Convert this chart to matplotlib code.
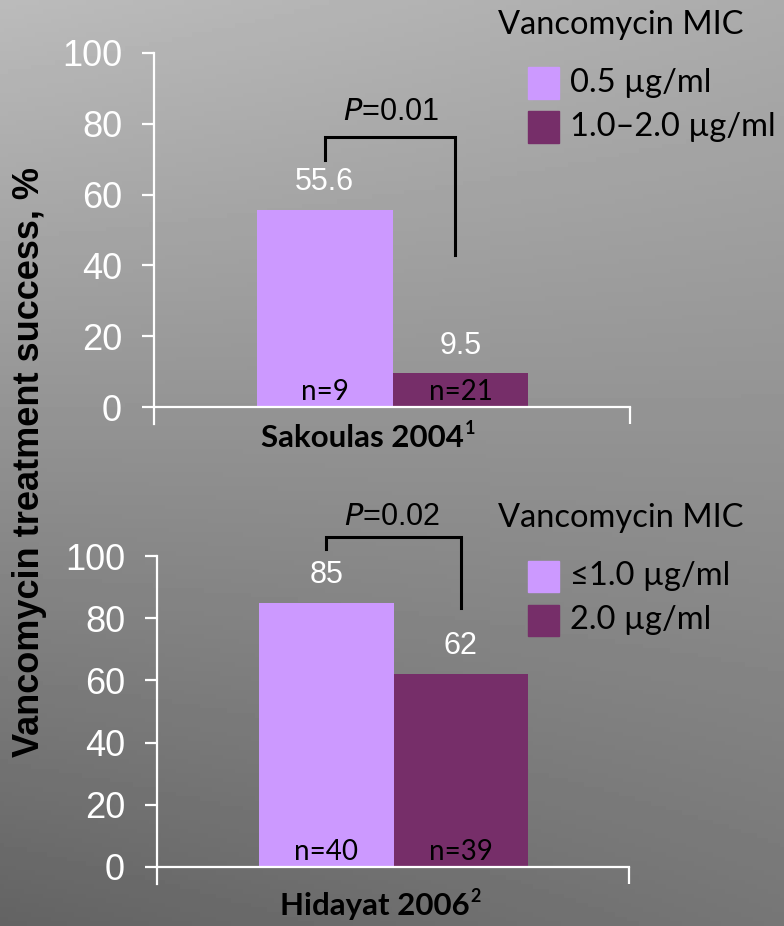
import numpy as np
import matplotlib
matplotlib.use('Agg')
from matplotlib import pyplot as plt
from matplotlib.patches import Rectangle

# study results: treatment success (%) by vancomycin MIC group
studies = ['Sakoulas 2004', 'Hidayat 2006']
refs = ['1', '2']
success_low = [55.6, 85]
success_high = [9.5, 62]
n_low = [9, 40]
n_high = [21, 39]
p_values = ['0.01', '0.02']
low_labels = ['0.5 µg/ml', '≤1.0 µg/ml']
high_labels = ['1.0–2.0 µg/ml', '2.0 µg/ml']

LIGHT = '#CC99FF'
DARK = '#762E69'
W, H = 784, 926

plt.rcParams['font.family'] = ['Liberation Sans', 'DejaVu Sans']

fig = plt.figure(figsize=(W / 100, H / 100), dpi=100)

# gray gradient background
bg = fig.add_axes([0, 0, 1, 1], zorder=-10)
xx, yy = np.meshgrid(np.linspace(0, 1, 200), np.linspace(0, 1, 200))
shade = (187 - 88 * yy - 16 * xx + 35 * xx * yy) / 255.0
bg.imshow(shade, cmap='gray', vmin=0, vmax=1, aspect='auto', extent=[0, 1, 1, 0])
bg.set_xlim(0, 1)
bg.set_ylim(1, 0)
bg.axis('off')


def px_rect(x0, y_top, x1, y_bot):
    return [x0 / W, 1 - y_bot / H, (x1 - x0) / W, (y_bot - y_top) / H]


def bracket(ax, x0, x1, y_top, y_left, y_right):
    ax.plot([x0, x0, x1, x1], [y_left, y_top, y_top, y_right], color='black', lw=2.2,
            clip_on=False, solid_joinstyle='miter')


def study_label(i, xc, yc):
    # name plus a smaller raised reference number
    t = fig.text(xc / W, 1 - yc / H, studies[i], ha='center', va='center',
                 fontsize=22.5, fontweight='bold', family='Lato')
    fig.canvas.draw()
    bb = t.get_window_extent()
    fig.text((bb.x1 + 1) / W, (bb.y1 + 4) / H, refs[i], ha='left', va='top',
             fontsize=13, fontweight='bold', family='Lato')


def panel(ax, i, ybot, br, p_y, legend_top):
    ax.bar([0, 1], [success_low[i], success_high[i]], width=1.0,
           color=[LIGHT, DARK], zorder=2)
    xmin, xmax = -1.26, 2.25
    ax.set_xlim(xmin, xmax)
    ax.set_ylim(ybot, 100)
    ax.patch.set_visible(False)
    for s in ['top', 'right']:
        ax.spines[s].set_visible(False)
    ax.spines['left'].set_color('white')
    ax.spines['left'].set_linewidth(1.6)
    ax.spines['bottom'].set_color('white')
    ax.spines['bottom'].set_linewidth(1.6)
    ax.spines['bottom'].set_position(('data', 0))
    ax.set_yticks([0, 20, 40, 60, 80, 100])
    ax.tick_params(axis='y', colors='white', length=9, width=1.6, pad=14, labelsize=26)
    ax.set_xticks([xmax])
    ax.tick_params(axis='x', colors='white', length=12.5, width=1.6, labelbottom=False)

    for x, v, n in zip([0, 1], [success_low[i], success_high[i]], [n_low[i], n_high[i]]):
        ax.annotate(f'{v:g}', (x, v), xytext=(0, 20), textcoords='offset points',
                    ha='center', va='center', color='white', fontsize=22)
        ax.annotate(f'n={n}', (x, 0), xytext=(0, 11), textcoords='offset points',
                    ha='center', va='center', color='black', fontsize=20, family='Lato')

    bracket(ax, *br)
    ax.text(0.49, p_y, f'$\\it{{P}}$=' + p_values[i], ha='center', va='center',
            fontsize=22, color='black')

    # legend block
    fig.text(498 / W, 1 - legend_top / H, 'Vancomycin MIC', ha='left', va='center',
             fontsize=23.5, family='Lato', color='black')
    for k, (c, lab) in enumerate(zip([LIGHT, DARK], [low_labels[i], high_labels[i]])):
        yc = legend_top + 58 + 44 * k
        fig.add_artist(Rectangle((528 / W, 1 - (yc + 15.5) / H), 31 / W, 31 / H,
                                 transform=fig.transFigure, color=c))
        fig.text(570 / W, 1 - yc / H, lab, ha='left', va='center', fontsize=23.5,
                 family='Lato', color='black')


ax1 = fig.add_axes(px_rect(154, 53, 630, 424))
panel(ax1, 0, -4.8, (0, 0.96, 76.3, 69.8, 42.9), 83.3, 25)

ax2 = fig.add_axes(px_rect(157, 556, 629, 884))
panel(ax2, 1, -5.5, (0, 1.0, 106.1, 102.3, 83.3), 112.5, 518)

fig.text(30 / W, 1 - 462 / H, 'Vancomycin treatment success, %', rotation=90,
         ha='center', va='center', fontsize=26, fontweight='bold')

study_label(0, 362, 438)
study_label(1, 375, 906)

fig.savefig('out.png', dpi=100)
